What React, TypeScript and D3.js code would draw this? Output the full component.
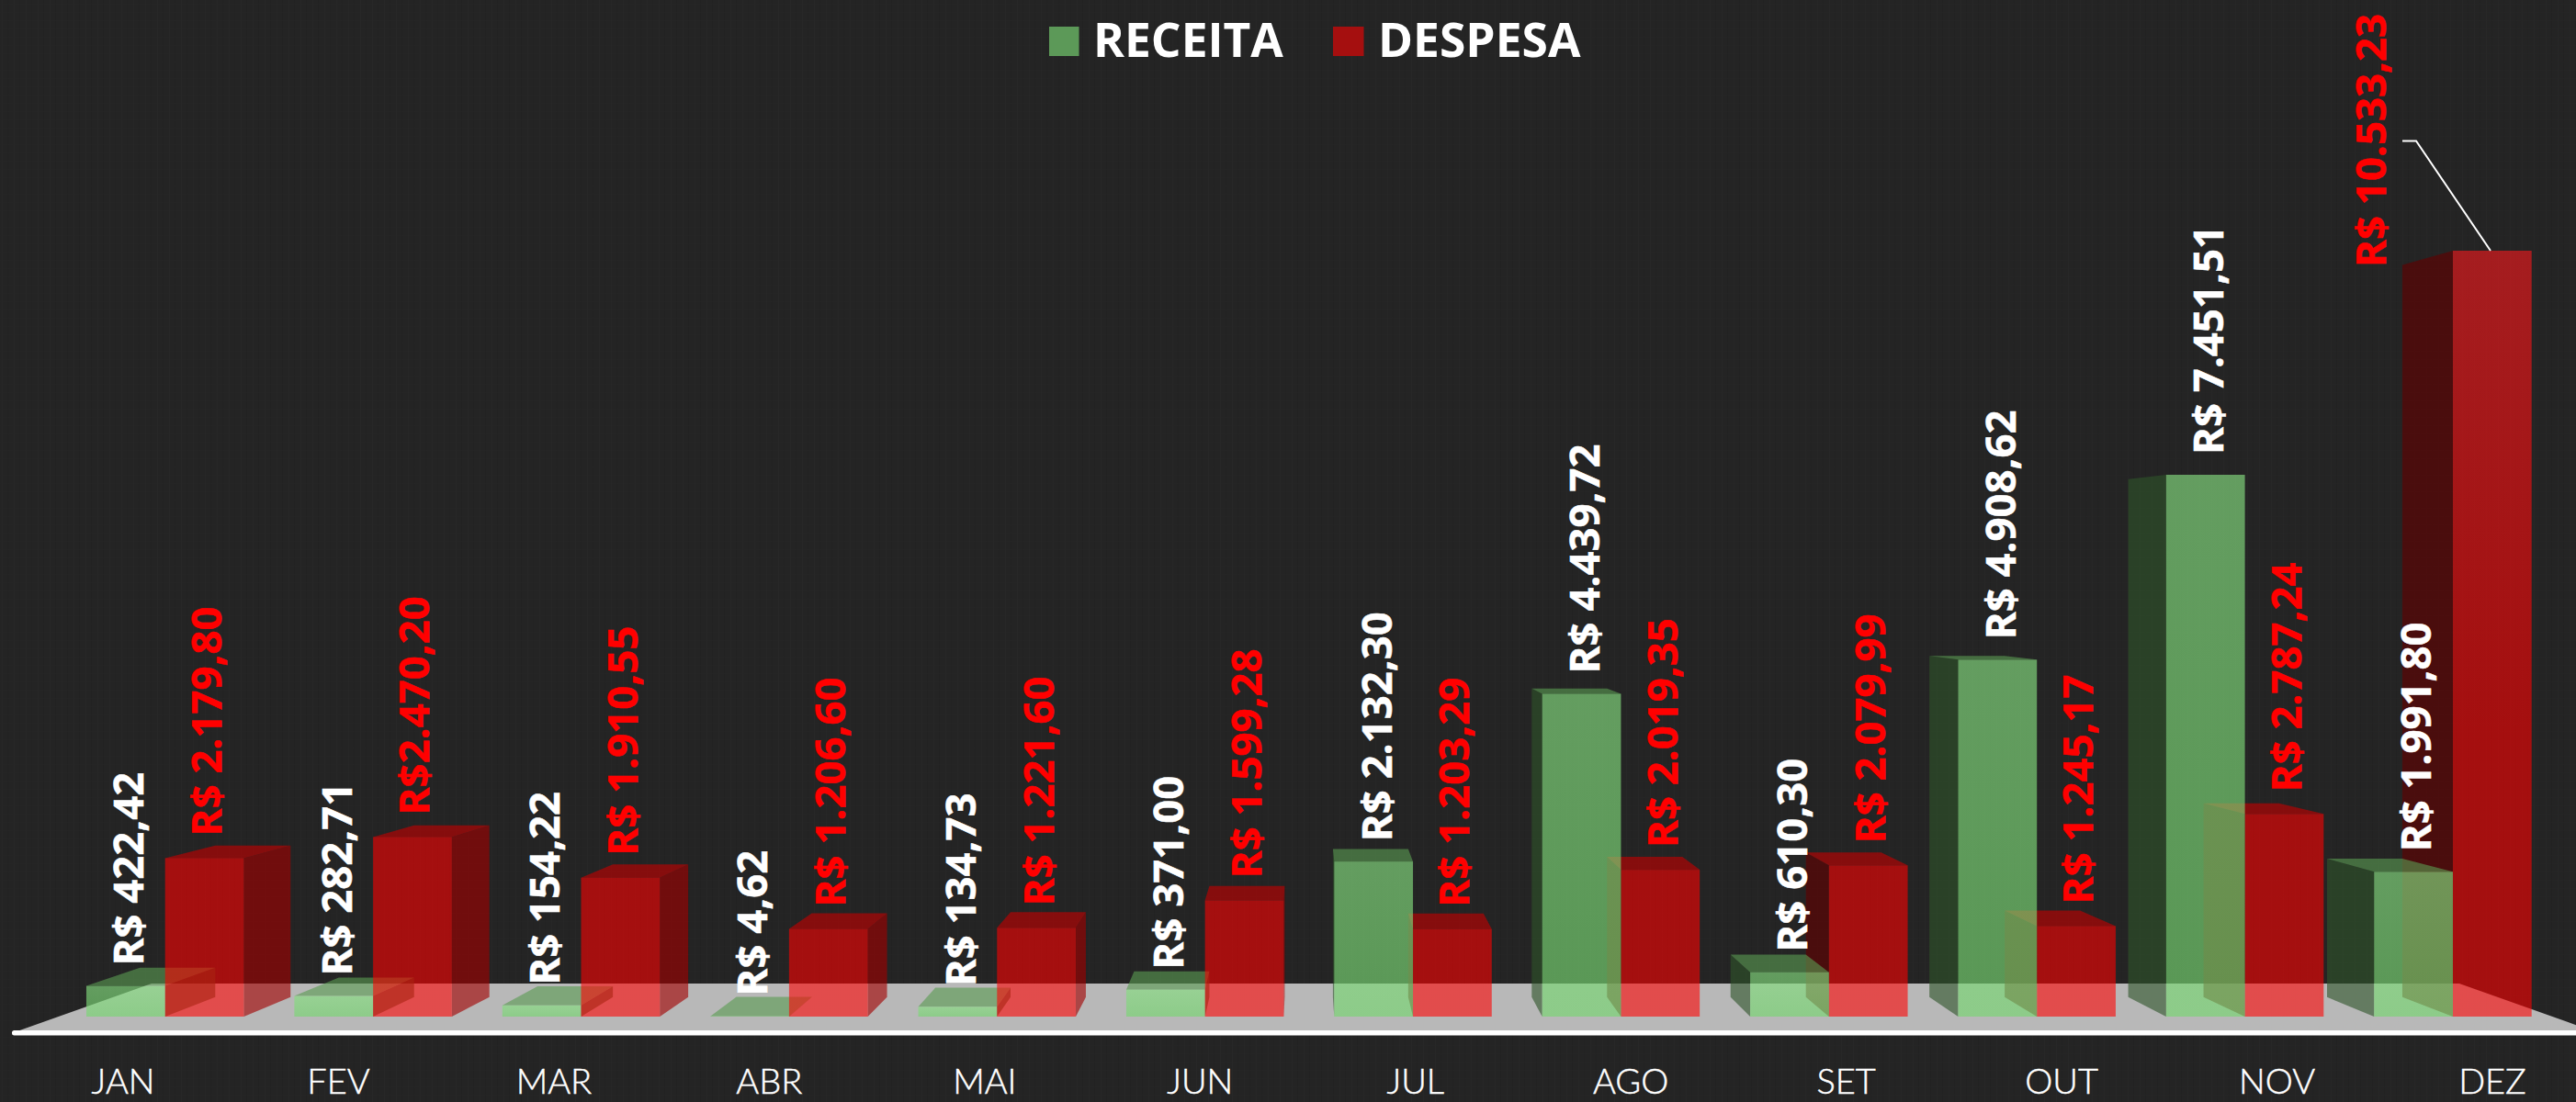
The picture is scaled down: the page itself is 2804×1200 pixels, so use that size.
import * as d3 from "d3";

const months = ["JAN", "FEV", "MAR", "ABR", "MAI", "JUN", "JUL", "AGO", "SET", "OUT", "NOV", "DEZ"];
const receita = [422.42, 282.71, 154.22, 4.62, 134.73, 371.0, 2132.3, 4439.72, 610.3, 4908.62, 7451.51, 1991.8];
const despesa = [2179.8, 2470.2, 1910.55, 1206.6, 1221.6, 1599.28, 1203.29, 2019.35, 2079.99, 1245.17, 2787.24, 10533.23];
const receitaLabels = ["R$ 422,42", "R$ 282,71", "R$ 154,22", "R$ 4,62", "R$ 134,73", "R$ 371,00", "R$ 2.132,30", "R$ 4.439,72", "R$ 610,30", "R$ 4.908,62", "R$ 7.451,51", "R$ 1.991,80"];
const despesaLabels = ["R$ 2.179,80", "R$2.470,20", "R$ 1.910,55", "R$ 1.206,60", "R$ 1.221,60", "R$ 1.599,28", "R$ 1.203,29", "R$ 2.019,35", "R$ 2.079,99", "R$ 1.245,17", "R$ 2.787,24", "R$ 10.533,23"];
const seriesNames = ["RECEITA", "DESPESA"];

const width = 2804;
const height = 1200;
const baseY = 1107;
const vanish = { x: 1420, y: 625 };
const depth = 0.044;

const x = d3
  .scaleBand<string>()
  .domain(months)
  .range([94, 2755.7])
  .paddingInner(0.2426)
  .paddingOuter(0);
const inner = d3.scaleBand<string>().domain(seriesNames).range([0, x.bandwidth()]);
const y = d3.scaleLinear().domain([0, 10533.23]).range([baseY, 273]);
const xAxis = d3.scalePoint<string>().domain(months).range([134, 2713]);

const back = (px: number, py: number): [number, number] => [
  px + (vanish.x - px) * depth,
  py + (vanish.y - py) * depth,
];
const poly = d3.line();

const faces = {
  RECEITA: {
    front: ["url(#greenFront)", 0.65],
    side: ["rgb(47,85,42)", 0.615],
    sideLeft: ["rgb(47,85,42)", 0.615],
    top: ["rgb(90,155,82)", 0.62],
  },
  DESPESA: {
    front: ["url(#redFront)", 0.59],
    side: ["rgb(162,0,0)", 0.62],
    sideLeft: ["rgb(99,0,0)", 0.62],
    top: ["rgb(196,0,0)", 0.62],
  },
} as const;

function Bar({ month, name, value }: { month: string; name: "RECEITA" | "DESPESA"; value: number }) {
  const x0 = x(month)! + inner(name)!;
  const x1 = x0 + inner.bandwidth();
  const top = y(value);
  const c = faces[name];
  const onRight = x0 > vanish.x;
  const farSideX = onRight ? x0 : x1;
  const showSide = onRight || x1 < vanish.x;
  const side = onRight ? c.sideLeft : c.side;
  return (
    <g>
      {showSide && (
        <path
          d={poly([[farSideX, top], back(farSideX, top), back(farSideX, baseY), [farSideX, baseY]])!}
          fill={side[0]}
          fillOpacity={side[1]}
        />
      )}
      {/* bars taller than the eye level show no top face */}
      {top > vanish.y && (
        <path
          d={poly([[x0, top], [x1, top], back(x1, top), back(x0, top)])!}
          fill={c.top[0]}
          fillOpacity={c.top[1]}
        />
      )}
      <rect x={x0} y={top} width={x1 - x0} height={baseY - top} fill={c.front[0]} fillOpacity={c.front[1]} />
    </g>
  );
}

export default function App() {
  const floorBackY = 1071;
  const floorFrontY = 1125;
  const floorSlope = (vanish.x - 13) / (floorFrontY - vanish.y);
  const labelFont = "'Open Sans', sans-serif";
  const dez = months.length - 1;
  const dezTop = y(despesa[dez]);
  return (
    <svg
      width={width}
      height={height}
      viewBox={`0 0 ${width} ${height}`}
      style={{ position: "absolute", left: 0, top: 0, display: "block" }}
    >
      <defs>
        <pattern id="linen" width="13" height="9" patternUnits="userSpaceOnUse">
          <rect width="13" height="9" fill="#242424" />
          <rect x="2" width="1" height="9" fill="#292929" fillOpacity="0.6" />
          <rect x="8" width="1" height="9" fill="#202020" fillOpacity="0.5" />
          <rect y="4" width="13" height="1" fill="#282828" fillOpacity="0.3" />
        </pattern>
        <linearGradient id="greenFront" x1="0" y1="0" x2="0" y2="1">
          <stop offset="0" stopColor="rgb(134,222,128)" />
          <stop offset="1" stopColor="rgb(118,214,112)" />
        </linearGradient>
        <linearGradient id="redFront" gradientUnits="userSpaceOnUse" x1="0" y1="273" x2="0" y2="800">
          <stop offset="0" stopColor="rgb(255,24,28)" />
          <stop offset="1" stopColor="rgb(255,0,0)" />
        </linearGradient>
      </defs>
      <rect width={width} height={height} fill="url(#linen)" />

      {/* Floor */}
      <path
        d={poly([
          [13, floorFrontY],
          [13 + (floorFrontY - floorBackY) * floorSlope, floorBackY],
          [2677, floorBackY],
          [2677 + (floorFrontY - floorBackY) * floorSlope, floorFrontY],
        ])!}
        fill="#b8b8b8"
      />
      <rect x={13} y={1122} width={2800} height={5.5} rx={2.5} fill="#fff" />

      {/* Bars */}
      {months.map((m, i) => {
        const left = x(m)! + x.bandwidth() / 2 < vanish.x;
        const green = <Bar key="r" month={m} name="RECEITA" value={receita[i]} />;
        const red = <Bar key="d" month={m} name="DESPESA" value={despesa[i]} />;
        return <g key={m}>{left ? [green, red] : [red, green]}</g>;
      })}

      {/* Data labels */}
      <g fontFamily={labelFont} fontWeight={700} fontSize={45.5} strokeWidth={0.5}>
        {months.map((m, i) => {
          const px = x(m)! + inner("RECEITA")! + inner.bandwidth() / 2 + 3;
          const py = y(receita[i]) - 22;
          return (
            <text key={m} transform={`translate(${px},${py}) rotate(-90)`} dy="0.36em" fill="#fff" stroke="#fff">
              {receitaLabels[i]}
            </text>
          );
        })}
        {months.map((m, i) => {
          const isDez = i === dez;
          const px = isDez ? 2581 : x(m)! + inner("DESPESA")! + inner.bandwidth() / 2 + 2;
          const py = isDez ? 291 : y(despesa[i]) - 24;
          return (
            <text key={m} transform={`translate(${px},${py}) rotate(-90)`} dy="0.36em" fill="#ff0000" stroke="#ff0000">
              {despesaLabels[i]}
            </text>
          );
        })}
      </g>

      {/* Leader line for the December label */}
      <path
        d={poly([[2615, 153.5], [2630, 153.5], [x("DEZ")! + inner("DESPESA")! + 41, dezTop]])!}
        fill="none"
        stroke="#fff"
        strokeWidth={2}
      />

      {/* Month axis */}
      <g fontFamily="Lato, sans-serif" fontWeight={300} fontSize={38} fill="#fff" stroke="#fff" strokeWidth={0.5} textAnchor="middle">
        {months.map((m) => (
          <text key={m} x={xAxis(m)} y={1191}>
            {m}
          </text>
        ))}
      </g>

      {/* Legend */}
      <g fontFamily={labelFont} fontWeight={700} fontSize={51.5} fill="#fff">
        <rect x={1142} y={29} width={32.5} height={32} fill="#5c9958" />
        <text x={1190} y={62}>{seriesNames[0]}</text>
        <rect x={1451} y={29} width={33.5} height={32} fill="#a50f0f" />
        <text x={1500} y={62}>{seriesNames[1]}</text>
      </g>
    </svg>
  );
}
